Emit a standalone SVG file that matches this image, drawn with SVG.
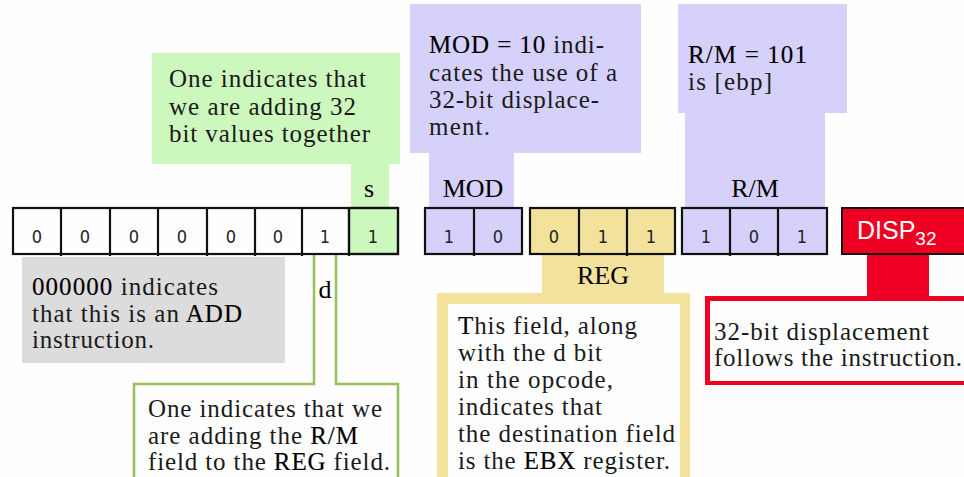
<svg xmlns="http://www.w3.org/2000/svg" width="964" height="477" viewBox="0 0 964 477">
  <style>
    .body { font-family: "Liberation Serif", "Times New Roman", serif; font-size: 25px; fill: #1a1a1a; }
    .em { fill: #000; stroke: #000; stroke-width: 0.15; }
    .label { font-family: "Liberation Serif", "Times New Roman", serif; font-size: 26px; fill: #000; text-anchor: middle; }
    .bit { font-family: "DejaVu Sans Condensed", "DejaVu Sans", sans-serif; font-size: 18px; fill: #222; text-anchor: middle; }
    .cell { stroke: #111; stroke-width: 2.2; }
    .green { fill: #ccf7bd; }
    .purple { fill: #d5d1fa; }
    .yellow { fill: #f2e29c; }
    .gray { fill: #dcdcdc; }
    .red { fill: #ee0022; }
    .dline { fill: none; stroke: #98c05a; stroke-width: 2.5; }
  </style>

  <rect width="964" height="477" fill="#fefefe"/>

  <!-- connectors: stems joining each field to its note -->
  <g id="connectors">
    <rect class="green" x="351" y="163" width="38" height="46"/>
    <rect class="purple" x="429" y="152" width="85" height="57"/>
    <rect class="purple" x="685" y="112" width="140" height="97"/>
    <rect class="yellow" x="542" y="253" width="122" height="42"/>
    <rect class="red" x="867" y="253" width="62" height="45"/>
    <polyline class="dline" points="314,255 314,384 134,384 134,480"/>
    <polyline class="dline" points="336,255 336,384 398,384 398,480"/>
  </g>

  <!-- note: s bit -->
  <g id="note-s">
    <rect class="green" x="152" y="53" width="248" height="111"/>
    <text class="body" x="169" y="87" textLength="197" lengthAdjust="spacing">One indicates that</text>
    <text class="body" x="169" y="115" textLength="187" lengthAdjust="spacing">we are adding 32</text>
    <text class="body" x="169" y="142" textLength="201" lengthAdjust="spacing">bit values together</text>
    <text class="label" x="369" y="197">s</text>
  </g>

  <!-- note: MOD field -->
  <g id="note-mod">
    <rect class="purple" x="410" y="4" width="231" height="149"/>
    <text class="body" x="429" y="53" textLength="175" lengthAdjust="spacing"><tspan class="em">MOD = 10</tspan> indi-</text>
    <text class="body" x="429" y="81" textLength="188" lengthAdjust="spacing">cates the use of a</text>
    <text class="body" x="429" y="108" textLength="170" lengthAdjust="spacing">32-bit displace-</text>
    <text class="body" x="429" y="135" textLength="61" lengthAdjust="spacing">ment.</text>
    <text class="label" x="473" y="197">MOD</text>
  </g>

  <!-- note: R/M field -->
  <g id="note-rm">
    <rect class="purple" x="678" y="4" width="169" height="109"/>
    <text class="body" x="688" y="63" textLength="119" lengthAdjust="spacing"><tspan class="em">R/M = 101</tspan></text>
    <text class="body" x="688" y="90" textLength="84" lengthAdjust="spacing">is [ebp]</text>
    <text class="label" x="755" y="197">R/M</text>
  </g>

  <!-- instruction bits -->
  <g id="bits-opcode">
    <rect class="cell" x="349" y="208" width="49" height="46" fill="#ccf7bd"/>
    <rect class="cell" x="13" y="208" width="385" height="46" fill="none"/>
    <path class="cell" d="M61 208V256M110 208V256M158 208V256M207 208V256M255 208V256M302 208V256M349 208V256"/>
    <text class="bit" x="37" y="243">0</text>
    <text class="bit" x="85" y="243">0</text>
    <text class="bit" x="134" y="243">0</text>
    <text class="bit" x="182" y="243">0</text>
    <text class="bit" x="231" y="243">0</text>
    <text class="bit" x="278" y="243">0</text>
    <text class="bit" x="325" y="243">1</text>
    <text class="bit" x="373" y="243">1</text>
  </g>

  <g id="bits-mod">
    <rect class="cell purple" x="425" y="208" width="97" height="46"/>
    <path class="cell" d="M474 208V256"/>
    <text class="bit" x="449" y="243">1</text>
    <text class="bit" x="498" y="243">0</text>
  </g>

  <g id="bits-reg">
    <rect class="cell yellow" x="530" y="208" width="145" height="46"/>
    <path class="cell" d="M579 208V256M627 208V256"/>
    <text class="bit" x="554" y="243">0</text>
    <text class="bit" x="603" y="243">1</text>
    <text class="bit" x="651" y="243">1</text>
  </g>

  <g id="bits-rm">
    <rect class="cell purple" x="682" y="208" width="145" height="46"/>
    <path class="cell" d="M730 208V256M778 208V256"/>
    <text class="bit" x="706" y="243">1</text>
    <text class="bit" x="754" y="243">0</text>
    <text class="bit" x="802" y="243">1</text>
  </g>

  <g id="bits-disp">
    <rect class="red" x="842" y="208" width="130" height="46" stroke="#111" stroke-width="2"/>
    <text x="857" y="239" font-family="Liberation Sans, Arial, sans-serif" font-size="25" fill="#fff">DISP<tspan font-size="19" dy="6">32</tspan></text>
  </g>

  <!-- note: opcode -->
  <g id="note-opcode">
    <rect class="gray" x="22" y="257" width="263" height="106"/>
    <text class="body" x="32" y="295" textLength="186" lengthAdjust="spacing"><tspan class="em">000000</tspan> indicates</text>
    <text class="body" x="32" y="322" textLength="210" lengthAdjust="spacing">that this is an <tspan class="em">ADD</tspan></text>
    <text class="body" x="32" y="348" textLength="122" lengthAdjust="spacing">instruction.</text>
  </g>

  <!-- note: d bit -->
  <g id="note-d">
    <text class="label" x="325" y="298">d</text>
    <text class="body" x="148" y="417" textLength="234" lengthAdjust="spacing">One indicates that we</text>
    <text class="body" x="148" y="444" textLength="210" lengthAdjust="spacing">are adding the <tspan class="em">R/M</tspan></text>
    <text class="body" x="148" y="470" textLength="242" lengthAdjust="spacing">field to the <tspan class="em">REG</tspan> field.</text>
  </g>

  <!-- note: REG field -->
  <g id="note-reg">
    <text class="label" x="603" y="284">REG</text>
    <path class="yellow" fill-rule="evenodd" d="M437 293H690V490H437ZM448 304V490H680V304Z"/>
    <text class="body" x="458" y="334" textLength="179" lengthAdjust="spacing"><tspan class="em">T</tspan>his field, along</text>
    <text class="body" x="458" y="361" textLength="144" lengthAdjust="spacing">with the d bit</text>
    <text class="body" x="458" y="388" textLength="155" lengthAdjust="spacing">in the opcode,</text>
    <text class="body" x="458" y="415" textLength="144" lengthAdjust="spacing">indicates that</text>
    <text class="body" x="458" y="442" textLength="217" lengthAdjust="spacing">the destination field</text>
    <text class="body" x="458" y="469" textLength="212" lengthAdjust="spacing">is the <tspan class="em">EBX</tspan> register.</text>
  </g>

  <!-- note: displacement -->
  <g id="note-disp">
    <path class="red" fill-rule="evenodd" d="M705 296H975V385H705ZM710 301V381H975V301Z"/>
    <text class="body" x="714" y="340" textLength="215" lengthAdjust="spacing">32-bit displacement</text>
    <text class="body" x="714" y="366" textLength="248" lengthAdjust="spacing">follows the instruction.</text>
  </g>
</svg>
